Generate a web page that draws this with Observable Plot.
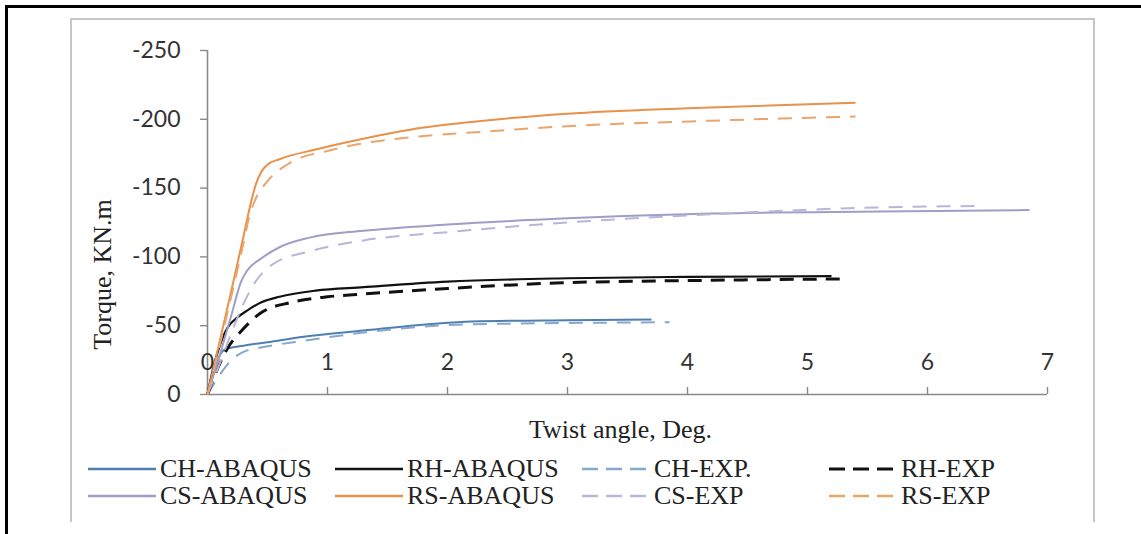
<!DOCTYPE html>
<html>
<head>
<meta charset="utf-8">
<script src="https://cdn.jsdelivr.net/npm/d3@7"></script>
<script src="https://cdn.jsdelivr.net/npm/@observablehq/plot@0.6"></script>
<style>
  body { margin: 0; background: #fff; }
  #page { position: relative; width: 1141px; height: 534px; overflow: hidden; background: #fff; }
  .outer { position: absolute; left: 5px; top: 5px; right: -10px; bottom: -10px;
           border-left: 3px solid #000; border-top: 3px solid #000; }
  .frame { position: absolute; left: 70px; top: 18px; width: 1021px; height: 502px;
           border: 2px solid #c6c6c6; border-bottom: none; pointer-events: none; }
  #chart { position: absolute; left: 0; top: 0; }
  .legend { position: absolute; left: 88px; top: 455px; display: grid;
            grid-template-columns: repeat(4, 247px); grid-auto-rows: 27px;
            font-family: "Liberation Serif", "Times New Roman", serif; font-size: 26px; color: #222; }
  .item { display: flex; align-items: center; white-space: nowrap; }
  .item svg { flex: none; margin-right: 4px; }
</style>
</head>
<body>
<div id="page">
  <div class="outer"></div>
  <div id="chart"></div>
  <div class="frame"></div>
  <div class="legend" id="legend"></div>
</div>
<script>
// Torque (kN.m) against twist angle (deg) for each specimen: [angle, torque]
const chAbaqus = [[0,0],[0.05,-15],[0.1,-28],[0.15,-33],[0.3,-35.5],[0.5,-38],[0.8,-42],[1.3,-46.5],[1.9,-51.5],[2.2,-53],[3.0,-54],[3.7,-54.5]];
const rhAbaqus = [[0,0],[0.05,-20],[0.1,-35],[0.17,-49],[0.25,-56],[0.33,-61],[0.45,-67],[0.6,-71],[0.9,-75.5],[1.3,-78],[2.0,-82],[3.0,-84.5],[4.0,-85.5],[5.2,-86]];
const chExp = [[0,0],[0.1,-14],[0.2,-25],[0.3,-31],[0.5,-35],[0.8,-39],[1.3,-45],[1.9,-50],[2.5,-51.5],[3.0,-52],[3.85,-52.5]];
const rhExp = [[0,0],[0.1,-22],[0.17,-34],[0.28,-46],[0.44,-59],[0.7,-67],[1.0,-71],[1.3,-73],[2.0,-77],[2.9,-81],[4.2,-83],[5.3,-84]];
const csAbaqus = [[0,0],[0.1,-28],[0.2,-58],[0.28,-82],[0.33,-90],[0.45,-99],[0.6,-107],[0.85,-114],[1.3,-119],[2.0,-123.5],[3.0,-128],[4.2,-131.5],[5.6,-133],[6.85,-134]];
const rsAbaqus = [[0,0],[0.1,-38],[0.2,-76],[0.3,-115],[0.35,-135],[0.4,-152],[0.45,-162],[0.5,-167],[0.6,-171],[0.9,-178],[1.2,-184],[1.8,-194],[2.3,-199],[3.0,-204],[4.0,-208],[5.4,-212]];
const csExp = [[0,0],[0.1,-22],[0.2,-45],[0.3,-66],[0.4,-82],[0.55,-95],[0.85,-104],[1.3,-112],[2.0,-118],[3.0,-125],[4.2,-131],[5.6,-136],[6.4,-137]];
const rsExp = [[0,0],[0.1,-35],[0.2,-72],[0.3,-110],[0.35,-130],[0.4,-142],[0.5,-155],[0.7,-169],[1.0,-177],[1.2,-181],[1.7,-187],[2.3,-191],[3.0,-195],[4.2,-199],[5.4,-202]];

const seriesNames = ["CH-ABAQUS", "RH-ABAQUS", "CH-EXP.", "RH-EXP", "CS-ABAQUS", "RS-ABAQUS", "CS-EXP", "RS-EXP"];
const seriesData = [chAbaqus, rhAbaqus, chExp, rhExp, csAbaqus, rsAbaqus, csExp, rsExp];

const xTicks = [0, 1, 2, 3, 4, 5, 6, 7];
const yTicks = [0, -50, -100, -150, -200, -250];
const xTitle = "Twist angle, Deg.";
const yTitle = "Torque, KN.m";

// Line styling per series (same order as the names)
const styles = [
  {stroke: "#4f7fb0", width: 2,   dash: null},
  {stroke: "#111111", width: 2.2, dash: null},
  {stroke: "#86a8cc", width: 2,   dash: "14,10"},
  {stroke: "#111111", width: 3,   dash: "14,9"},
  {stroke: "#9e9ec6", width: 2,   dash: null},
  {stroke: "#e8914a", width: 2,   dash: null},
  {stroke: "#b6b6d8", width: 2,   dash: "14,10"},
  {stroke: "#eba46a", width: 2,   dash: "14,10"}
];

const tables = seriesData.map((pts, i) =>
  pts.map(([angle, torque]) => ({series: seriesNames[i], angle, torque})));

const tickFont = {fontFamily: "Lato, 'Open Sans', sans-serif", fontSize: 23, fill: "#333"};
const titleFont = {fontFamily: "'Liberation Serif', 'Times New Roman', serif", fontSize: 26, fill: "#222"};

const plot = Plot.plot({
  width: 1141,
  height: 450,
  marginLeft: 207,
  marginRight: 94,
  marginTop: 50,
  marginBottom: 56,
  style: {background: "transparent", overflow: "visible"},
  x: {domain: [0, 7], label: null},
  y: {domain: [0, -250], label: null},
  marks: [
    Plot.ruleY([0], {stroke: "#8a8a8a", strokeWidth: 1.6}),
    Plot.ruleX([0], {stroke: "#8a8a8a", strokeWidth: 1.6}),
    Plot.axisY(yTicks, {anchor: "left", tickSize: 7, tickPadding: 20, stroke: "#8a8a8a", strokeWidth: 1.4,
      tickFormat: d => String(d), label: null, ...tickFont}),
    Plot.axisX(xTicks, {anchor: "bottom", tickSize: -7, stroke: "#8a8a8a", strokeWidth: 1.4,
      fill: "none", label: null}),
    Plot.axisX(xTicks, {anchor: "bottom", tickSize: 0, tickPadding: 0, dy: -41,
      tickFormat: d => String(d), label: null, ...tickFont}),
    ...tables.map((t, i) => Plot.line(t, {
      x: "angle", y: "torque", curve: "monotone-x",
      stroke: styles[i].stroke, strokeWidth: styles[i].width,
      strokeDasharray: styles[i].dash, strokeLinecap: "butt"
    })),
    Plot.text([xTitle], {frameAnchor: "bottom", dx: -7, dy: 35, lineAnchor: "middle", textAnchor: "middle", ...titleFont}),
    Plot.text([yTitle], {frameAnchor: "left", dx: -105, dy: 52, rotate: -90, lineAnchor: "middle", textAnchor: "middle", ...titleFont})
  ]
});
document.getElementById("chart").append(plot);

// Legend: two rows of four entries, each a line sample followed by its name
const legend = document.getElementById("legend");
seriesNames.forEach((name, i) => {
  const s = styles[i];
  const item = document.createElement("div");
  item.className = "item";
  item.innerHTML =
    `<svg width="68" height="10"><line x1="0" y1="5" x2="68" y2="5" stroke="${s.stroke}" ` +
    `stroke-width="${Math.max(2.5, s.width)}" ${s.dash ? `stroke-dasharray="16,8"` : ""}/></svg>` +
    `<span>${name}</span>`;
  legend.append(item);
});
</script>
</body>
</html>
